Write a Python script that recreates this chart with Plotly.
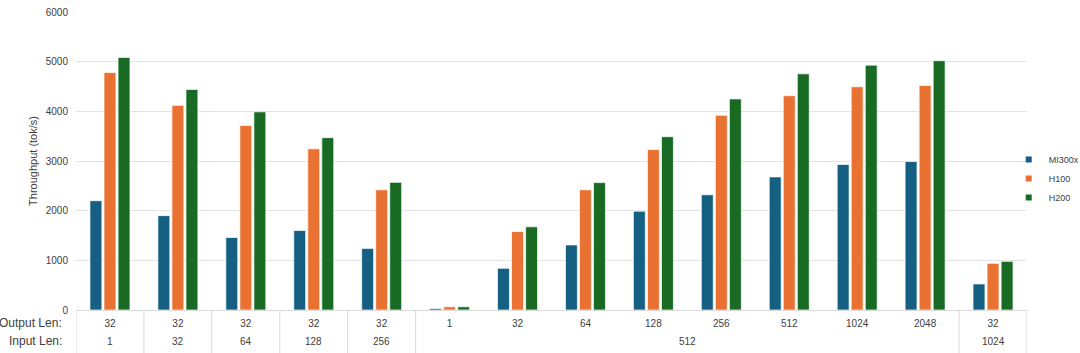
import plotly.graph_objects as go

input_len = ["1", "32", "64", "128", "256", "512", "512", "512", "512", "512", "512", "512", "512", "1024"]
output_len = ["32", "32", "32", "32", "32", "1", "32", "64", "128", "256", "512", "1024", "2048", "32"]

series_names = ["MI300x", "H100", "H200"]
mi300x = [2200, 1900, 1460, 1600, 1240, 30, 840, 1310, 1990, 2320, 2680, 2930, 2990, 525]
h100 = [4780, 4120, 3715, 3245, 2420, 65, 1580, 2420, 3230, 3920, 4315, 4495, 4520, 940]
h200 = [5085, 4440, 3990, 3470, 2570, 65, 1675, 2565, 3490, 4250, 4755, 4930, 5020, 980]
colors = ["#156082", "#E97132", "#196B24"]

y_ticks = [0, 1000, 2000, 3000, 4000, 5000, 6000]

idx = list(range(len(output_len)))

fig = go.Figure()
for name, vals, col in zip(series_names, [mi300x, h100, h200], colors):
    fig.add_trace(go.Bar(
        x=idx, y=vals, name=name, showlegend=False,
        marker=dict(color=col, line=dict(color="rgba(255,255,255,0.7)", width=1)),
    ))
# legend entries with small square symbols
for name, col in zip(series_names, colors):
    fig.add_trace(go.Scatter(
        x=[None], y=[None], mode="markers", name=name,
        marker=dict(symbol="square", size=6, color=col),
    ))

# runs of identical input length -> outer labels & dividers
runs = []
start = 0
for i in range(1, len(input_len) + 1):
    if i == len(input_len) or input_len[i] != input_len[start]:
        runs.append((start, i - 1, input_len[start]))
        start = i

font_family = "Liberation Sans, Arial, sans-serif"
txt = "#404040"
fig.update_layout(
    width=1080, height=353,
    margin=dict(l=76, r=53, t=12, b=43, autoexpand=False),
    paper_bgcolor="white", plot_bgcolor="white",
    barmode="group", bargap=0.38, bargroupgap=0.15,
    font=dict(family=font_family, color=txt, size=10),
    legend=dict(xref="container", yref="container", x=0.934, y=0.494,
                xanchor="left", yanchor="middle",
                font=dict(size=9, color=txt), itemwidth=30,
                traceorder="normal", tracegroupgap=0, bgcolor="rgba(0,0,0,0)"),
    showlegend=True,
)
fig.update_yaxes(
    range=[0, 6000], tickvals=y_ticks, showgrid=True, gridcolor="#E3E3E3", gridwidth=1,
    zeroline=False, tickfont=dict(size=10, color=txt), ticks="", ticklabelstandoff=7,
    title=dict(text="Throughput (tok/s)", font=dict(size=11, color=txt), standoff=5),
)
fig.update_xaxes(
    range=[-0.5, len(idx) - 0.5], tickvals=idx, ticktext=output_len,
    showline=True, linecolor="#D9D9D9", linewidth=1,
    tickfont=dict(size=10, color=txt), ticks="", showgrid=False, zeroline=False,
    ticklabelstandoff=4,
)

for s, e, lab in runs:
    fig.add_annotation(text=lab, xref="x", yref="paper", x=(s + e) / 2, y=0,
                       yshift=-31, xanchor="center", yanchor="middle", showarrow=False,
                       font=dict(size=10, color=txt))
bounds = [runs[0][0] - 0.5] + [e + 0.5 for s, e, lab in runs]
for b in bounds:
    fig.add_shape(type="line", xref="x", yref="paper", x0=b, x1=b, y0=0, y1=-0.15,
                  line=dict(color="#D9D9D9", width=1))

fig.add_annotation(text="Output Len:", xref="paper", yref="paper", x=-0.013, y=0,
                   yshift=-13, xanchor="right", yanchor="middle", showarrow=False,
                   font=dict(size=12, color=txt))
fig.add_annotation(text="Input Len:", xref="paper", yref="paper", x=-0.013, y=0,
                   yshift=-31, xanchor="right", yanchor="middle", showarrow=False,
                   font=dict(size=12, color=txt))

fig.write_html("out.html")
